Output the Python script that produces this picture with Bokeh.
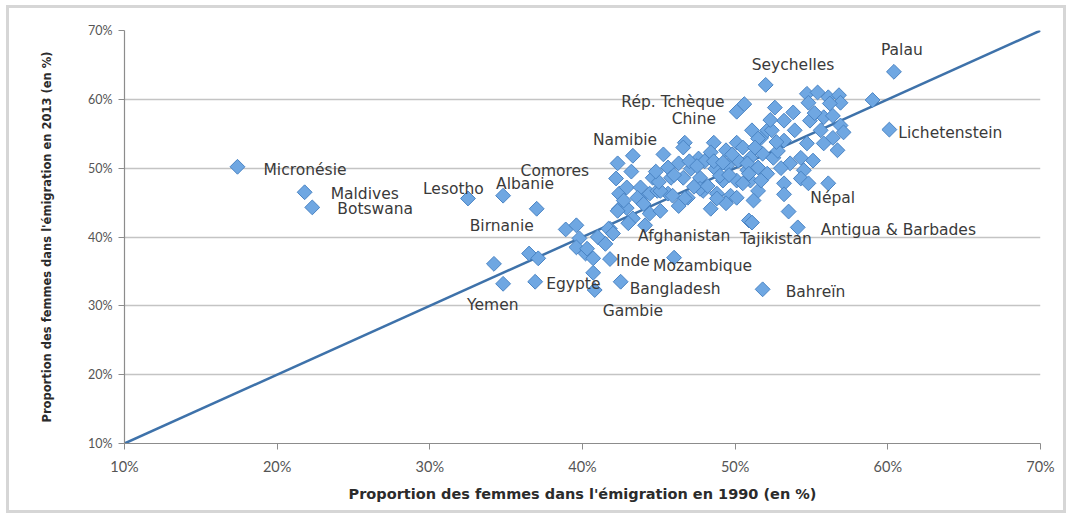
import math
from bokeh.plotting import figure
from bokeh.models import ColumnDataSource, FixedTicker, PrintfTickFormatter, Range1d
from bokeh.core.properties import value
from bokeh.embed import file_html
from bokeh.resources import INLINE

# ---- data: proportion of women in emigration (%), 1990 (x) vs 2013 (y)
labeled_names = ["Micronésie", "Maldives", "Botswana", "Lesotho", "Albanie", "Comores",
                 "Birnanie", "Yemen", "Egypte", "Gambie", "Bangladesh", "Inde",
                 "Mozambique", "Bahreïn", "Afghanistan", "Tajikistan", "Antigua & Barbades",
                 "Népal", "Lichetenstein", "Palau", "Seychelles", "Rép. Tchèque", "Chine", "Namibie"]
labeled_1990 = [17.4, 21.8, 22.3, 32.5, 34.8, 42.3,
                37.0, 34.8, 36.9, 40.8, 42.5, 41.8,
                46.0, 51.8, 44.1, 51.1, 54.1,
                56.1, 60.1, 60.4, 52.0, 50.6, 50.1, 43.3]
labeled_2013 = [50.2, 46.5, 44.3, 45.6, 46.0, 50.7,
                44.1, 33.2, 33.5, 32.3, 33.5, 36.8,
                37.0, 32.4, 41.7, 42.1, 41.4,
                47.8, 55.6, 64.0, 62.1, 59.3, 58.2, 51.8]
# label placement offsets in screen pixels (layout only)
label_dx = [26, 26, 25, -45, -7, -97, -67, -36, 11, 8, 9, 6, -21, 23, -7, -12, 23, -18, 9, -13, -14, -123, -65, -40]
label_dy = [3, 2, 2, -9, -12, 8, 17, 21, 2, 21, 7, 2, 8, 3, 11, 16, 3, 15, 3, -22, -20, -2, 7, -16]

other_1990 = [38.9, 39.6, 39.8, 39.6, 40.2, 40.7, 40.7, 34.2, 36.5, 37.1, 59.0,
              41.8, 42.4, 42.9, 42.2, 42.4, 42.7, 42.3, 42.9, 43.3, 44.4, 43.8, 44.4,
              44.6, 44.9, 45.6, 45.1, 46.7, 46.6, 48.6, 49.4, 50.1, 51.1, 51.7, 52.1,
              47.6, 48.4, 46.3, 45.6, 43.8, 45.8, 47.1, 46.6, 47.7, 48.7, 49.5, 50.2,
              51.0, 50.8, 51.5, 51.8, 49.2, 50.1, 51.0, 51.5, 43.6, 45.9, 46.9, 47.9,
              48.8, 49.7, 54.7, 55.4, 56.1, 56.8, 56.9, 54.8, 56.2, 52.6, 53.8, 53.2,
              54.9, 55.8, 56.4, 56.9, 57.1, 52.4, 53.9, 55.6, 56.4, 56.7, 55.8, 54.7,
              53.2, 51.5, 54.3, 55.1, 54.5, 53.6, 52.5, 50.8, 52.1, 53.2, 54.3, 54.8,
              53.2, 53.5, 51.2, 50.5, 51.7, 46.7, 47.7, 48.4, 49.4, 50.1, 48.8, 50.9,
              41.7, 45.1, 46.3, 47.3, 48.2, 49.0, 44.0, 45.0, 47.0, 48.0, 49.8, 50.5,
              52.8, 53.0, 55.2, 44.8, 46.0, 47.5, 48.6, 49.6, 51.3, 52.7, 45.3, 43.2,
              41.0, 41.5, 40.3, 42.0, 43.0, 49.2, 50.9, 52.3]
other_2013 = [41.1, 41.7, 39.8, 38.5, 37.6, 36.9, 34.8, 36.1, 37.6, 36.9, 59.9,
              41.2, 44.1, 44.2, 48.5, 46.3, 45.3, 43.8, 47.2, 42.7, 43.4, 45.6, 46.3,
              48.6, 46.7, 46.3, 46.7, 53.7, 53.0, 53.7, 52.6, 53.7, 55.5, 54.4, 55.5,
              51.4, 52.3, 50.7, 50.1, 47.2, 48.6, 49.9, 48.6, 48.6, 49.9, 50.4, 51.1,
              51.5, 49.7, 50.1, 52.1, 48.2, 48.2, 48.2, 46.7, 45.7, 46.0, 45.7, 46.7,
              46.3, 46.0, 60.8, 61.0, 60.3, 60.6, 59.5, 59.5, 59.4, 58.8, 58.1, 56.9,
              56.9, 57.4, 57.6, 56.2, 55.2, 55.5, 55.5, 55.5, 54.4, 52.6, 53.6, 53.6,
              54.0, 54.3, 51.5, 51.1, 49.7, 50.7, 51.5, 50.7, 49.2, 47.8, 48.5, 47.8,
              46.2, 43.7, 45.3, 47.8, 48.2, 45.6, 47.0, 44.1, 44.9, 45.7, 45.6, 42.4,
              41.2, 43.8, 44.5, 47.3, 47.4, 48.9, 44.8, 48.0, 51.0, 51.0, 52.0, 53.0,
              52.5, 50.0, 58.0, 49.5, 49.0, 50.3, 51.0, 49.0, 53.0, 53.8, 52.0, 49.5,
              40.0, 39.0, 38.3, 40.5, 42.0, 50.8, 49.2, 57.0]

ref_x = [10, 70]
ref_y = [10, 70]
ticks = [10, 20, 30, 40, 50, 60, 70]

p = figure(width=1060, height=508, output_backend="svg", toolbar_location=None,
           x_range=Range1d(10, 70), y_range=Range1d(10, 70),
           min_border_left=115, min_border_top=22, min_border_right=29, min_border_bottom=73)
p.styles = {"border": "3px solid #d6d6d6", "box-sizing": "border-box",
            "margin-left": "6px", "margin-top": "5px"}
p.outline_line_color = None
p.background_fill_color = "white"
p.border_fill_color = "white"

p.xgrid.grid_line_color = None
p.ygrid.grid_line_color = "#c4c4c4"
p.ygrid.grid_line_width = 1.6
p.ygrid.ticker = FixedTicker(ticks=ticks)

for ax in (p.xaxis[0], p.yaxis[0]):
    ax.ticker = FixedTicker(ticks=ticks)
    ax.formatter = PrintfTickFormatter(format="%d%%")
    ax.axis_line_color = "#8c8c8c"
    ax.axis_line_width = 1.2
    ax.major_tick_line_color = "#8c8c8c"
    ax.major_tick_out = 6
    ax.major_tick_in = 0
    ax.minor_tick_line_color = None
    ax.major_label_text_font = "Lato"
    ax.major_label_text_color = "#555555"
    ax.axis_label_text_font = "DejaVu Sans"
    ax.axis_label_text_font_style = "bold"
    ax.axis_label_text_color = "#2b2b2b"

p.xaxis.major_label_text_font_size = "14.5px"
p.yaxis.major_label_text_font_size = "12.5px"
p.xaxis.axis_label_text_font_size = "14.5px"
p.yaxis.axis_label_text_font_size = "11.5px"
p.xaxis.axis_label = "Proportion des femmes dans l'émigration en 1990 (en %)"
p.yaxis.axis_label = "Proportion des femmes dans l'émigration en 2013 (en %)"
p.xaxis.major_label_standoff = 8
p.xaxis.axis_label_standoff = 8
p.yaxis.major_label_standoff = 6
p.yaxis.axis_label_standoff = 31

# reference line y = x
p.line(ref_x, ref_y, line_color="#3e72aa", line_width=2.5)

all_x = other_1990 + labeled_1990
all_y = other_2013 + labeled_2013
p.scatter(all_x, all_y, marker="square", size=10.5, angle=math.pi / 4,
          fill_color="#6fa7e2", line_color="#4a84c4", line_width=1)

src = ColumnDataSource(dict(x=labeled_1990, y=labeled_2013, t=labeled_names,
                            dx=label_dx, dy=label_dy))
p.text(x="x", y="y", text="t", x_offset="dx", y_offset="dy", source=src,
       text_font=value("DejaVu Sans"), text_font_size="15.5px", text_color="#3a3a3a",
       text_align="left", text_baseline="middle")

open("out.html", "w").write(file_html(p, INLINE))
